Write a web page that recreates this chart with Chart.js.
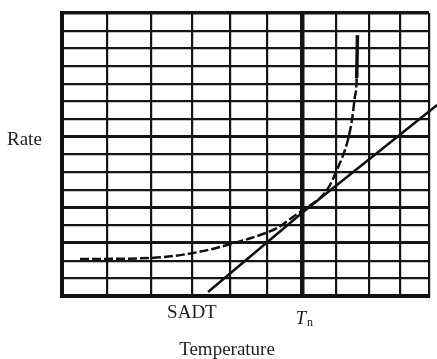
<!DOCTYPE html>
<html lang="en">
<head>
    <meta charset="UTF-8">
    <title>Rate vs Temperature</title>
    <script src="https://cdn.jsdelivr.net/npm/chart.js"></script>
    <style>
        body { margin: 0; background: #fff; }
    </style>
</head>
<body>
<canvas id="rateChart" width="437" height="359"></canvas>

<script>
    // graph paper grid (temperature axis is a bit uneven on the scan)
    const gridX = [0, 12.3, 24.3, 35.4, 45.8, 55.9, 65.4, 74.7, 83.7, 92.1, 100];
    const thickRows = [3, 5, 9];
    const sadtX = 35.4;
    const tnX = 65.4;

    // heat generation (dashed, exponential-like)
    const heatX = [4.9, 24.0, 35.7, 45.0, 54.0, 58.6, 62.9, 65.7, 72.2, 74.9, 77.9, 79.0, 79.8, 80.3, 80.5];
    const heatY = [2.09, 2.15, 2.43, 2.88, 3.45, 3.84, 4.47, 4.86, 5.99, 7.12, 8.82, 9.95, 11.25, 12.32, 14.75];

    // heat removal (straight line)
    const coolX = [39.8, 65.7, 102.2];
    const coolY = [0.23, 4.75, 10.8];

    const labels = { y: 'Rate', x: 'Temperature', sadt: 'SADT', tn: ['T', 'n'] };

    const toPoints = (xs, ys) => xs.map((x, i) => ({ x: x, y: ys[i] }));

    const textPlugin = {
        id: 'paperText',
        afterDraw(chart) {
            const ctx = chart.ctx;
            const area = chart.chartArea;
            const xs = chart.scales.x;
            const ys = chart.scales.y;
            ctx.save();
            ctx.fillStyle = '#1e1e1e';
            ctx.textBaseline = 'middle';
            ctx.font = '19px "Liberation Serif", serif';

            ctx.textAlign = 'left';
            ctx.fillText(labels.y, 7, ys.getPixelForValue(9) + 3);

            ctx.textAlign = 'center';
            ctx.fillText(labels.sadt, xs.getPixelForValue(sadtX), area.bottom + 17);
            ctx.fillText(labels.x, area.left + 165, area.bottom + 54);

            // T with subscript n
            const tx = xs.getPixelForValue(tnX);
            ctx.textAlign = 'right';
            ctx.font = 'italic 19px "Liberation Serif", serif';
            ctx.fillText(labels.tn[0], tx + 4, area.bottom + 23);
            ctx.textAlign = 'left';
            ctx.font = '12px "Liberation Serif", serif';
            ctx.fillText(labels.tn[1], tx + 5, area.bottom + 27);
            ctx.restore();
        }
    };

    const ctx = document.getElementById('rateChart').getContext('2d');
    const chart = new Chart(ctx, {
        type: 'line',
        data: {
            datasets: [{
                data: toPoints(heatX, heatY),
                borderColor: '#111',
                borderWidth: 2.5,
                borderDash: [9, 3],
                pointRadius: 0,
                cubicInterpolationMode: 'monotone',
                fill: false,
                segment: {
                    borderDash: c => c.p0.parsed.y >= 12 ? [] : [9, 3],
                    borderWidth: c => c.p0.parsed.y >= 12 ? 3.5 : 2.5
                }
            }, {
                data: toPoints(coolX, coolY),
                borderColor: '#111',
                borderWidth: 2.5,
                pointRadius: 0,
                tension: 0,
                clip: false,
                fill: false
            }]
        },
        options: {
            responsive: false,
            animation: false,
            layout: {
                padding: { left: 62, top: 13, right: 8, bottom: 63 }
            },
            plugins: {
                legend: { display: false },
                tooltip: { enabled: false }
            },
            scales: {
                x: {
                    type: 'linear',
                    min: 0,
                    max: 100,
                    afterBuildTicks: scale => {
                        scale.ticks = gridX.map(v => ({ value: v }));
                    },
                    ticks: { display: false },
                    grid: {
                        color: '#151515',
                        drawTicks: false,
                        lineWidth: c => (c.tick && c.tick.value === tnX) ? 4.5 : 2.2
                    },
                    border: { color: '#111', width: 4 }
                },
                y: {
                    type: 'linear',
                    min: 0,
                    max: 16,
                    ticks: { display: false, stepSize: 1 },
                    grid: {
                        color: '#151515',
                        drawTicks: false,
                        lineWidth: c => (c.tick && c.tick.value === 16) ? 3.5 :
                            (c.tick && thickRows.includes(c.tick.value)) ? 3 : 2.2
                    },
                    border: { color: '#111', width: 4 }
                }
            }
        },
        plugins: [textPlugin]
    });
</script>
</body>
</html>
